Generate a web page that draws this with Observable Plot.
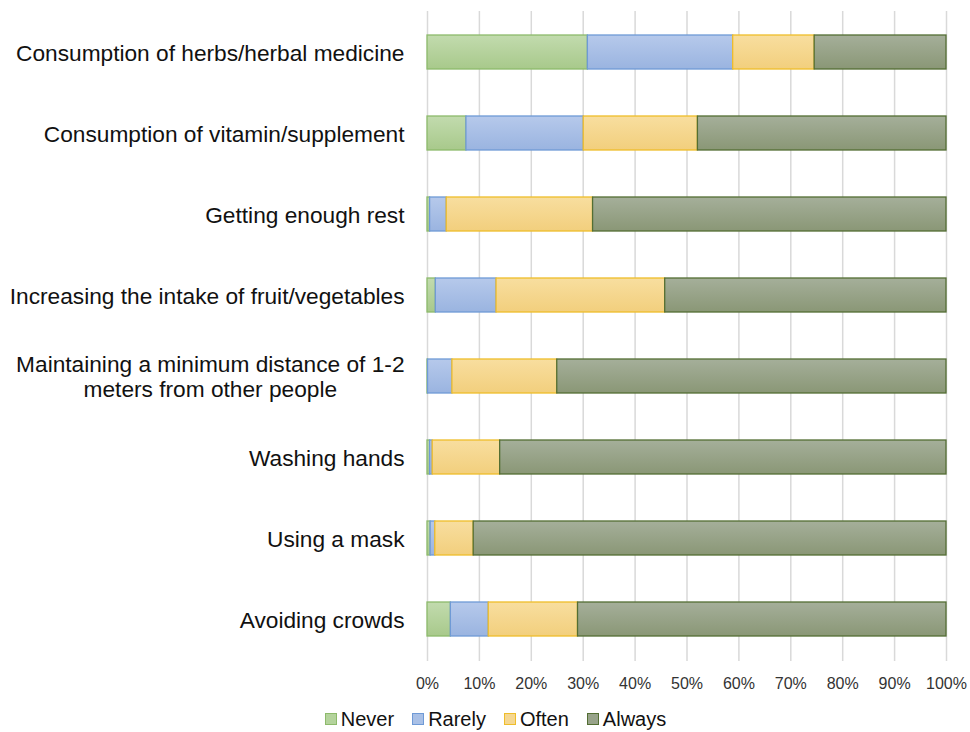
<!DOCTYPE html>
<html>
<head>
<meta charset="utf-8">
<script src="https://cdn.jsdelivr.net/npm/d3@7"></script>
<script src="https://cdn.jsdelivr.net/npm/@observablehq/plot@0.6"></script>
<style>
  body { margin: 0; background: #fff; font-family: "Liberation Sans", Arial, sans-serif; }
  #wrap { width: 970px; }
  #legend { display: flex; justify-content: center; align-items: center; gap: 18px; font-size: 20px; color: #111; margin-top: 7px; padding-left: 21px; line-height: 24px; }
  .item { display: flex; align-items: center; gap: 4px; }
  .sw { width: 10px; height: 10px; border: 1.3px solid; display: inline-block; }
</style>
</head>
<body>
<div id="wrap"><div id="chart"></div><div id="legend"></div></div>
<script>
const categories = [
  "Consumption of herbs/herbal medicine",
  "Consumption of vitamin/supplement",
  "Getting enough rest",
  "Increasing the intake of fruit/vegetables",
  "Maintaining a minimum distance of 1-2\nmeters from other people",
  "Washing hands",
  "Using a mask",
  "Avoiding crowds"
];
const series = ["Never", "Rarely", "Often", "Always"];
const never  = [30.9,  7.5,  0.5,  1.6,  0.1,  0.5,  0.6,  4.5];
const rarely = [28.0, 22.6,  3.2, 11.7,  4.7,  0.5,  0.9,  7.3];
const often  = [15.7, 22.0, 28.2, 32.5, 20.2, 13.0,  7.4, 17.2];
const always = [25.4, 47.9, 68.1, 54.2, 75.0, 86.0, 91.1, 71.0];
const xTicks = [0, 10, 20, 30, 40, 50, 60, 70, 80, 90, 100];

const gradTop    = ["#c2dbae", "#b6c9eb", "#f8de9f", "#a5af9a"];
const gradBottom = ["#a8c98b", "#9ab4e0", "#f2cf7d", "#8a9776"];
const strokes    = ["#8dba6b", "#6f9ad6", "#efbd2a", "#536e33"];
const swatchFill = ["#b4d39c", "#a9c0e6", "#f5d791", "#98a38a"];

const values = [never, rarely, often, always];
const rows = [];
categories.forEach((c, i) => {
  let acc = 0;
  series.forEach((s, j) => {
    const v = values[j][i];
    rows.push({cat: c, series: s, value: v, x1: acc, x2: acc + v});
    acc += v;
  });
});

const chart = Plot.plot({
  width: 970,
  height: 700,
  marginLeft: 427,
  marginRight: 24,
  marginTop: 11,
  marginBottom: 39,
  style: {fontFamily: "'Liberation Sans', Arial, sans-serif", background: "white"},
  x: {domain: [0, 100]},
  y: {domain: categories, paddingInner: 0.58, paddingOuter: 0.29},
  marks: [
    Plot.gridX(xTicks, {stroke: "#d9d9d9", strokeOpacity: 1, strokeWidth: 1.5}),
    ...series.map((s, j) => Plot.barX(rows.filter(d => d.series === s), {
      x1: "x1", x2: "x2", y: "cat",
      fill: `url(#grad${j})`, stroke: strokes[j], strokeWidth: 1.3
    })),
    Plot.axisX({ticks: xTicks, tickFormat: d => d + "%", tickSize: 0, tickPadding: 16, fontSize: 16, fill: "#333", label: null}),
    Plot.axisY({tickSize: 0, tickPadding: 23, fontSize: 22.7, fill: "#111", label: null, lineHeight: 1.12})
  ]
});

// gradients
const svg = d3.select(chart);
const defs = svg.insert("defs", ":first-child");
series.forEach((s, j) => {
  const g = defs.append("linearGradient").attr("id", `grad${j}`)
    .attr("x1", 0).attr("y1", 0).attr("x2", 0).attr("y2", 1);
  g.append("stop").attr("offset", "0%").attr("stop-color", gradTop[j]);
  g.append("stop").attr("offset", "100%").attr("stop-color", gradBottom[j]);
});

document.getElementById("chart").appendChild(chart);

// center multi-line y labels within their block (right-aligned block)
svg.selectAll("text").each(function() {
  const tspans = this.querySelectorAll("tspan");
  if (tspans.length > 1) {
    const w = this.getBBox().width;
    this.setAttribute("text-anchor", "middle");
    tspans.forEach(t => t.setAttribute("x", -w / 2));
  }
});

// legend
const legend = d3.select("#legend");
series.forEach((s, j) => {
  const it = legend.append("div").attr("class", "item");
  it.append("span").attr("class", "sw").style("background", swatchFill[j]).style("border-color", strokes[j]);
  it.append("span").text(s);
});
</script>
</body>
</html>
